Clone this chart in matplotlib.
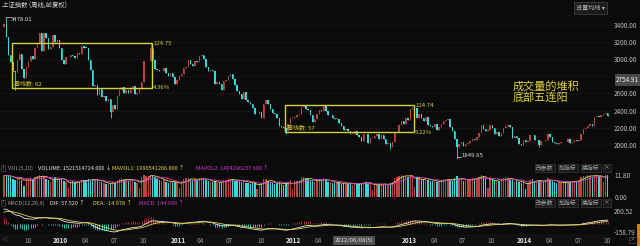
import numpy as np
import pandas as pd
import matplotlib
matplotlib.use('Agg')
import matplotlib.pyplot as plt
from matplotlib.patches import Rectangle

plt.rcParams['font.family'] = ['Noto Sans CJK SC', 'DejaVu Sans']

# 上证指数 周线收盘 (2009-07-31 起, 每周五)
warmup_close = [1904, 1954, 1990, 2011, 2181, 2320, 2261, 2082, 2193, 2133,
                2281, 2374, 2444, 2444, 2560, 2475, 2477, 2626, 2646, 2611,
                2632, 2724, 2745, 2880, 2958, 3088, 3113, 3189, 3372]
close_2009 = [3412, 3260, 3046, 2960, 2860, 2852, 2988, 3060, 2880, 2779,
              2911, 2976, 3039, 2996, 3132, 3187, 3308, 3096, 3300, 3241,
              3114, 3141, 3277]
close_2010 = [3196, 3225, 3128, 2989, 2939, 3018, 3018, 3051, 3031, 3013,
              3067, 3060, 3147, 3133, 3130, 2983, 2870, 2688, 2697, 2583,
              2656, 2553, 2569, 2514, 2535, 2383, 2470, 2424, 2572, 2637,
              2672, 2606, 2642, 2610, 2655, 2688, 2598, 2610, 2656, 2738,
              2971, 2975, 2978, 3129, 2985, 2884, 2871, 2857, 2866, 2894,
              2835, 2808]
close_2011 = [2838, 2791, 2715, 2752, 2798, 2827, 2899, 2905, 2993, 2937,
              2915, 2977, 2968, 3030, 3050, 2999, 2911, 2864, 2871, 2858,
              2709, 2728, 2705, 2642, 2746, 2759, 2797, 2820, 2772, 2701,
              2626, 2593, 2534, 2612, 2528, 2498, 2482, 2433, 2359, 2359,
              2383, 2317, 2473, 2528, 2481, 2416, 2373, 2360, 2315, 2224,
              2204, 2199]
close_2012 = [2163, 2244, 2319, 2319, 2330, 2351, 2357, 2439, 2460, 2420,
              2404, 2349, 2262, 2302, 2359, 2406, 2396, 2452, 2394, 2344,
              2350, 2309, 2306, 2306, 2260, 2225, 2169, 2185, 2168, 2128,
              2132, 2168, 2114, 2092, 2047, 2127, 2123, 2027, 2086, 2086,
              2104, 2128, 2067, 2117, 2069, 2015, 2026, 1980, 2033, 2150,
              2154, 2233]
close_2013 = [2276, 2243, 2317, 2291, 2419, 2432, 2432, 2314, 2359, 2319,
              2278, 2328, 2237, 2225, 2206, 2245, 2177, 2205, 2246, 2283,
              2288, 2301, 2210, 2162, 2073, 1979, 2007, 2040, 1992, 2010,
              2029, 2052, 2068, 2057, 2098, 2139, 2236, 2191, 2160, 2174,
              2229, 2193, 2133, 2149, 2106, 2135, 2197, 2220, 2237, 2204,
              2085, 2101]
close_2014 = [2083, 2013, 2004, 2054, 2033, 2044, 2115, 2113, 2056, 2057,
              2004, 2047, 2046, 2058, 2130, 2097, 2036, 2026, 2011, 2026,
              2034, 2039, 2030, 2070, 2024, 2036, 2059, 2047, 2059, 2127,
              2185, 2194, 2226, 2241, 2217, 2327, 2331, 2329, 2347, 2364,
              2374, 2341]

# 成交量 (同一单位, 轴顶 11.80)
vol_2009 = [11.5, 11.8, 11.2, 10.6, 9.8, 8.9, 10.3, 10.9, 9.2, 5.8,
            9.6, 10.1, 10.7, 9.8, 11.0, 11.4, 11.7, 10.8, 11.1, 9.9,
            9.0, 8.1, 9.3]
vol_2010 = [10.6, 10.3, 9.8, 9.4, 8.5, 7.9, 4.8, 8.0, 8.6, 8.1,
            8.8, 8.3, 9.3, 9.0, 8.9, 9.7, 8.6, 9.9, 9.4, 8.9,
            8.3, 7.9, 7.3, 7.1, 7.0, 7.4, 8.1, 7.7, 9.1, 9.7,
            10.1, 9.3, 9.0, 8.7, 9.5, 9.8, 8.2, 7.5, 4.6, 11.0,
            11.6, 11.4, 11.1, 11.8, 11.5, 10.8, 9.9, 9.3, 8.8, 8.9,
            8.2, 7.6]
vol_2011 = [8.7, 8.0, 8.3, 7.8, 4.9, 8.5, 9.7, 10.0, 10.4, 9.4,
            9.0, 9.5, 9.2, 10.2, 10.4, 9.6, 8.9, 8.4, 8.1, 7.9,
            8.7, 7.5, 7.3, 8.2, 9.3, 9.1, 9.7, 9.8, 8.9, 8.5,
            8.8, 9.0, 8.3, 8.6, 7.7, 7.4, 7.1, 7.5, 7.8, 4.2,
            7.2, 7.7, 9.4, 9.9, 8.8, 7.9, 7.6, 7.1, 7.3, 7.8,
            7.0, 6.7]
vol_2012 = [7.4, 8.1, 8.9, 4.4, 8.6, 8.8, 9.1, 10.6, 10.9, 9.9,
            9.4, 8.9, 8.8, 8.2, 9.3, 9.6, 8.8, 10.1, 9.2, 8.3,
            8.0, 7.6, 7.4, 7.3, 7.8, 7.1, 7.5, 7.7, 7.2, 6.9,
            6.7, 7.4, 7.0, 6.8, 7.3, 8.2, 7.8, 7.5, 7.7, 4.0,
            6.9, 7.2, 6.8, 7.0, 6.6, 7.1, 6.5, 7.4, 8.3, 10.4,
            11.0, 11.5]
vol_2013 = [11.7, 10.9, 11.5, 11.0, 11.6, 11.8, 5.2, 10.8, 10.5, 9.9,
            9.4, 9.8, 9.2, 8.5, 8.8, 8.4, 8.1, 7.9, 9.1, 9.7,
            9.9, 9.4, 8.9, 8.6, 10.1, 11.2, 9.9, 9.4, 8.7, 8.8,
            9.1, 9.6, 10.3, 9.8, 10.4, 11.0, 11.8, 11.1, 10.2, 5.0,
            10.5, 9.8, 9.2, 8.7, 8.4, 9.4, 10.4, 10.5, 10.0, 9.3,
            9.0, 8.3]
vol_2014 = [8.6, 8.0, 7.7, 8.2, 4.5, 7.4, 9.2, 9.4, 8.7, 8.3,
            8.6, 8.8, 8.4, 9.0, 10.1, 9.3, 8.5, 7.9, 7.6, 7.8,
            7.7, 8.0, 7.8, 8.6, 7.9, 8.1, 8.8, 8.5, 9.1, 10.8,
            11.4, 11.2, 11.6, 11.5, 10.7, 11.8, 11.7, 11.1, 11.4, 7.8,
            11.6, 11.8]

# 关键高低点 (周序号: 价格)
high_marks = {1: 3478.01, 66: 3186.72, 184: 2444.80}
low_marks = {5: 2639.76, 48: 2319.74, 127: 2132.63, 174: 1949.46, 204: 1849.65, 241: 1974.38}

price_ticks = [2000, 2200, 2400, 2600, 3000, 3200, 3400]
cursor_price = 2754.91
cursor_date = '2012-06-08'

box1 = dict(start=4, end=66, top=3186, bottom=2663, weeks='周线数: 62', top_txt='124.75', bot_txt='4.36%')
box2 = dict(start=127, end=184, top=2465, bottom=2151, weeks='周线数: 57', top_txt='114.74', bot_txt='5.22%')

BG = '#0b0b0b'
UP = '#b8443f'
DN = '#36dada'
YEL = '#d6d23c'
MAG = '#d23ad2'
GRID = '#262626'

close = np.array(close_2009 + close_2010 + close_2011 + close_2012 + close_2013 + close_2014, float)
volume = np.array(vol_2009 + vol_2010 + vol_2011 + vol_2012 + vol_2013 + vol_2014)
n = len(close)
opens = np.concatenate([[warmup_close[-1]], close[:-1]])
high = np.maximum(opens, close)
low = np.minimum(opens, close)
for k, v in high_marks.items():
    high[k] = v
for k, v in low_marks.items():
    low[k] = v
dates = pd.date_range('2009-07-31', periods=n, freq='W-FRI')
x = np.arange(n)
up = close >= opens

# MACD(12,26,9)
full = pd.Series(warmup_close + list(close))
dif_all = full.ewm(span=12, adjust=False).mean() - full.ewm(span=26, adjust=False).mean()
dea_all = dif_all.ewm(span=9, adjust=False).mean()
dif = dif_all.values[-n:]
dea = dea_all.values[-n:]
hist = 2 * (dif - dea)
mavol1 = pd.Series(volume).rolling(5, min_periods=1).mean()
mavol2 = pd.Series(volume).rolling(10, min_periods=1).mean()

W, H = 640, 246


def rect(x0, y0, x1, y1):
    return [x0 / W, 1 - y1 / H, (x1 - x0) / W, (y1 - y0) / H]


def fpos(px, py):
    return px / W, 1 - py / H


fig = plt.figure(figsize=(6.4, 2.46), dpi=100, facecolor=BG)
ax_p = fig.add_axes(rect(0, 0, 610, 161))
ax_v = fig.add_axes(rect(0, 162, 610, 198), sharex=ax_p)
ax_m = fig.add_axes(rect(0, 199, 610, 234), sharex=ax_p)
ax_t = fig.add_axes(rect(0, 234, 610, 246), sharex=ax_p)

for ax in (ax_p, ax_v, ax_m, ax_t):
    ax.set_facecolor(BG)
    for s in ax.spines.values():
        s.set_visible(False)
    ax.yaxis.tick_right()
    ax.tick_params(axis='y', length=0, pad=3, labelsize=4.6, labelcolor='#bdbdbd')
    ax.tick_params(axis='x', length=0, labelbottom=False)
ax_t.set_facecolor('#101010')
ax_t.set_yticks([])
ax_p.set_xlim(-1.8, n)

# 主图 K线
ax_p.set_ylim(1814, 3686)
ax_p.set_yticks(price_ticks)
ax_p.set_yticklabels([f'{t:.2f}' for t in price_ticks])
for t in price_ticks + [2800]:
    ax_p.axhline(t, color=GRID, lw=0.5, ls=(0, (2, 2)), zorder=0)
cols = np.where(up, UP, DN)
ax_p.vlines(x, low, high, colors=cols, lw=0.6, zorder=2)
body = np.maximum(np.abs(close - opens), 6)
ax_p.bar(x, body, bottom=np.minimum(opens, close), width=0.62, color=cols, linewidth=0, zorder=3)

for b in (box1, box2):
    ax_p.add_patch(Rectangle((b['start'] - 0.5, b['bottom']), b['end'] - b['start'] + 1,
                             b['top'] - b['bottom'], fill=False, ec=YEL, lw=1.0, zorder=4))
    ax_p.text(b['start'] + 0.5, b['bottom'] + 25, b['weeks'], color=YEL, fontsize=4.3,
              va='bottom', ha='left', zorder=5)
    ax_p.text(b['end'] + 1.2, b['top'], b['top_txt'], color=YEL, fontsize=4.3, va='center', ha='left', zorder=5)
    ax_p.text(b['end'] + 1.2, b['bottom'], b['bot_txt'], color=YEL, fontsize=4.3, va='center', ha='left', zorder=5)

ax_p.plot([1, 1, 3], [high[1], high[1] + 15, high[1] + 15], color='#dddddd', lw=0.5)
ax_p.text(3.3, high[1] - 20, f'{high[1]:.2f}', color='#dddddd', fontsize=4.3, va='center', ha='left')
ax_p.plot([204, 204, 206], [low[204], low[204] + 15, low[204] + 15], color='#dddddd', lw=0.5)
ax_p.text(206.3, low[204] + 25, f'{low[204]:.2f}', color='#dddddd', fontsize=4.3, va='center', ha='left')

ax_p.text(229, 2745, '成交量的堆积\n底部五连阳', color='#e2d43e', fontsize=8,
          va='top', ha='left', linespacing=1.05)
ax_p.text(1.01, cursor_price, f'{cursor_price:.2f}', transform=ax_p.get_yaxis_transform(),
          color='#f0f0f0', fontsize=4.6, va='center', ha='left',
          bbox=dict(boxstyle='square,pad=0.25', fc='#4a4a4a', ec='none'), clip_on=False)

fig.text(*fpos(2, 6), '上证指数 (周线,前复权)', color='#d8d8d8', fontsize=4.6, va='center', ha='left')
fig.text(*fpos(576, 8), '设置均线 ▾', color='#bbbbbb', fontsize=4.4, va='center', ha='left',
         bbox=dict(boxstyle='square,pad=0.3', fc='#1c1c1c', ec='#555555', lw=0.4))

# 成交量
ax_v.set_ylim(-0.54, 18.8)
ax_v.set_yticks([0, 11.8])
ax_v.set_yticklabels(['0.00', '11.80'])
ax_v.bar(x, volume, width=0.62, color=cols, linewidth=0)
ax_v.plot(x, mavol1, color='#e0d64a', lw=0.6)
ax_v.plot(x, mavol2, color=MAG, lw=0.6)

# MACD
ax_m.set_ylim(-199, 500)
ax_m.set_yticks([-158.79, 260.52])
ax_m.set_yticklabels(['-158.79', '260.52'])
ax_m.vlines(x, 0, hist, colors=np.where(hist >= 0, UP, DN), lw=0.6)
ax_m.plot(x, dif, color='#e6e6e6', lw=0.6)
ax_m.plot(x, dea, color='#e0d64a', lw=0.6)

# 指标栏标题
hdr_v = [(8, 'VOL(5,10)', '#9a9a9a'), (38, 'VOLUME: 1521514724.000 ↓', '#e6e6e6'),
         (112, 'MAVOL1: 1990541266.800 ↑', '#e0d64a'), (196, 'MAVOL2: 1404296237.600 ↑', MAG)]
hdr_m = [(8, 'MACD(12,26,9)', '#9a9a9a'), (50, 'DIF: 57.520 ↑', '#e6e6e6'),
         (93, 'DEA: -14.978 ↑', '#e0d64a'), (139, 'MACD: 144.990 ↑', MAG)]
for py, hdr in ((168, hdr_v), (203, hdr_m)):
    fig.text(*fpos(2, py), '?', color='#888888', fontsize=3.6, va='center', ha='left',
             bbox=dict(boxstyle='square,pad=0.15', fc='none', ec='#555555', lw=0.4))
    for px, s, c in hdr:
        fig.text(*fpos(px, py), s, color=c, fontsize=4.0, va='center', ha='left')
    for px, s in ((536, '改参数'), (559, '加指标'), (582, '换指标'), (604, '×')):
        fig.text(*fpos(px, py), s, color='#aaaaaa', fontsize=4.2, va='center', ha='left',
                 bbox=dict(boxstyle='square,pad=0.25', fc='#181818', ec='#444444', lw=0.4))

# 时间轴
ci = dates.get_loc(pd.Timestamp(cursor_date))
for i in range(1, n):
    m = dates[i].month
    if m != dates[i - 1].month and m in (1, 4, 7, 10):
        if ci - 2 <= i <= ci + 17:
            continue  # 被光标日期框遮住
        lab = str(dates[i].year) if m == 1 else f'{m:02d}'
        ax_t.text(i, 0.45, lab, color='#e8e8e8' if m == 1 else '#9a9a9a', fontsize=4.6,
                  fontweight='bold' if m == 1 else 'normal', va='center', ha='left', clip_on=False)
ax_t.text(ci, 0.45, pd.Timestamp(cursor_date).strftime('%Y/%m/%d') + '(5)', color='#e0e0e0',
          fontsize=4.3, va='center', ha='left', zorder=6,
          bbox=dict(boxstyle='square,pad=0.3', fc='#4e4e4e', ec='none'))
ax_t.set_ylim(0, 1)
fig.text(*fpos(2, 240), '◁', color='#888888', fontsize=4, va='center', ha='left')
fig.text(*fpos(630, 240), '×', color='#888888', fontsize=4.2, va='center', ha='left',
         bbox=dict(boxstyle='square,pad=0.15', fc='none', ec='#555555', lw=0.4))
fig.patches.append(Rectangle(fpos(637, 246), 3 / W, 22 / H, transform=fig.transFigure,
                             fc='#d07a1c', ec='none'))

fig.savefig('out.png', dpi=100, facecolor=BG)
